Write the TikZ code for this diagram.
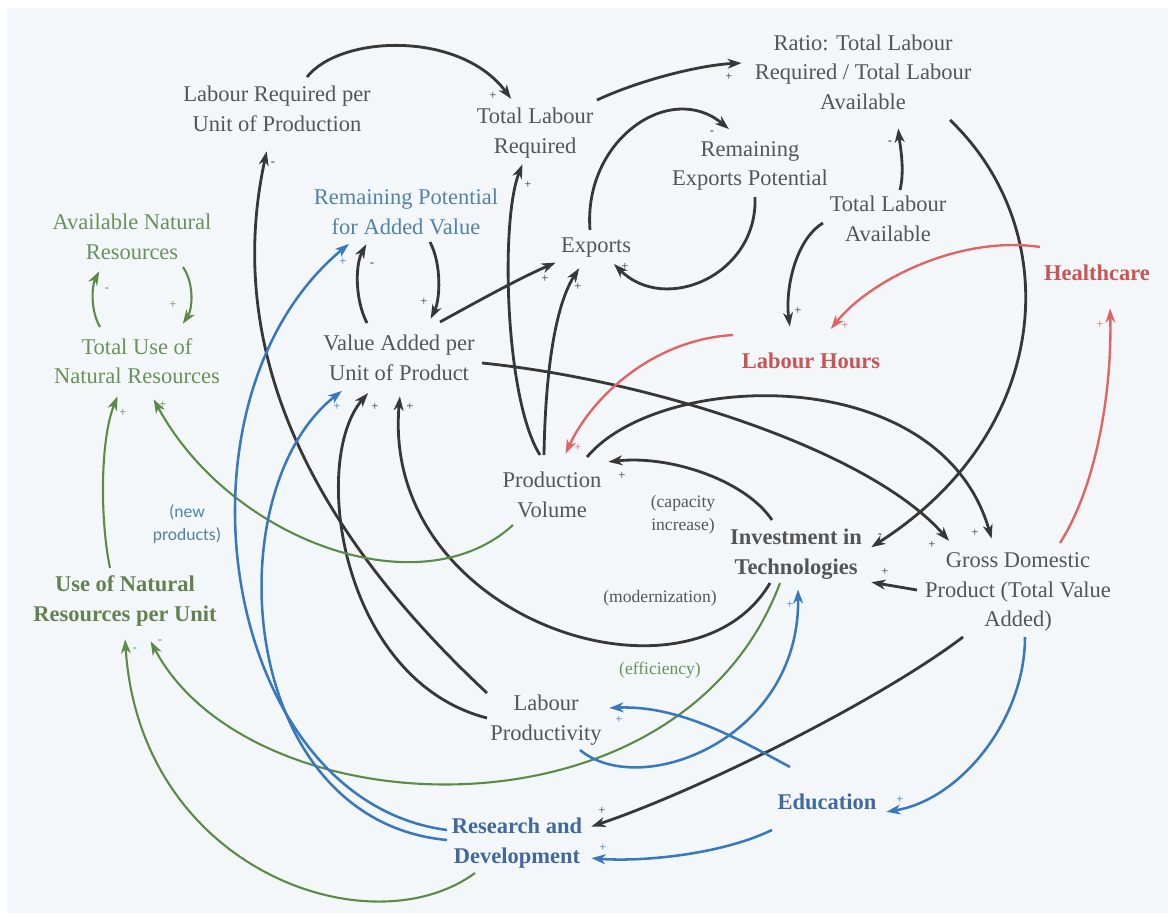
\documentclass[tikz,border=0pt]{standalone}
\usepackage{fontspec}
\setmainfont{Liberation Serif}
\newfontfamily\notesans{Carlito}
\usetikzlibrary{arrows.meta}

\definecolor{paper}{RGB}{244,247,250}
\definecolor{txtgray}{RGB}{85,85,85}
\definecolor{arrgray}{RGB}{55,55,55}
\definecolor{leafgreen}{RGB}{105,145,90}
\definecolor{darkgreen}{RGB}{100,130,80}
\definecolor{arrgreen}{RGB}{90,140,70}
\definecolor{skyblue}{RGB}{80,130,170}
\definecolor{inkblue}{RGB}{65,105,160}
\definecolor{arrblue}{RGB}{55,120,190}
\definecolor{rosered}{RGB}{200,85,85}
\definecolor{arrred}{RGB}{225,100,100}

\def\varfont{\fontsize{16}{21}\selectfont}
\def\notefont{\fontsize{12.5}{16.5}\selectfont}
\def\sgnfont{\fontsize{9}{9}\selectfont}

\begin{document}
\begin{tikzpicture}[x=0.025cm, y=-0.025cm, shorten >=1pt, >={Stealth[length=10pt,width=7pt,inset=3pt]}]
    \tikzstyle{var}=[align=center, text=txtgray, font=\varfont, inner sep=1pt]
    \tikzstyle{key var}=[var, font=\varfont\bfseries]
    \tikzstyle{note}=[align=center, text=txtgray, font=\notefont, inner sep=1pt]
    \tikzstyle{sgn}=[font=\sgnfont, inner sep=0pt]
    \tikzstyle{link}=[->, color=arrgray, line width=2pt]
    \tikzstyle{green link}=[link, color=arrgreen, line width=1.5pt]
    \tikzstyle{blue link}=[link, color=arrblue, line width=1.8pt]
    \tikzstyle{red link}=[link, color=arrred, line width=1.7pt]

    \fill[white] (0,0) rectangle (1170,916);
    \fill[paper] (7,8) rectangle (1168,913);
    \useasboundingbox (0,0) rectangle (1170,916);

    % Draw the plain variables
    \foreach \name/\x/\y/\txt in {%
        LRPU/277/109/{Labour Required per\\Unit of Production},
        TLR/535/133/{Total Labour\\Required},
        Ratio/863/72/{Ratio: Total Labour\\Required / Total Labour\\Available},
        REP/750/166/{Remaining\\Exports Potential},
        TLA/888/219/{Total Labour\\Available},
        Exp/596/248/{Exports},
        VAPU/399/358/{Value Added per\\Unit of Product},
        PV/552/495/{Production\\Volume},
        GDP/1018/592/{Gross Domestic\\Product (Total Value\\Added)},
        LP/546/720/{Labour\\Productivity}}
        \node[var] (\name) at (\x,\y) {\txt};

    % Draw the coloured variables
    \node[var, text=leafgreen] (ANR) at (132,237) {Available Natural\\Resources};
    \node[var, text=leafgreen] (TUNR) at (137,361) {Total Use of\\Natural Resources};
    \node[var, text=skyblue] (RPAV) at (406,212) {Remaining Potential\\for Added Value};
    \node[key var, text=darkgreen] (UNRU) at (125,601) {Use of Natural\\Resources per Unit};
    \node[key var] (IT) at (796,554) {Investment in\\Technologies};
    \node[key var, text=rosered] (HC) at (1097,273) {Healthcare};
    \node[key var, text=rosered] (LH) at (811,361) {Labour Hours};
    \node[key var, text=inkblue] (Edu) at (827,802) {Education};
    \node[key var, text=inkblue] (RD) at (517,843) {Research and\\Development};

    % Annotate the investment channels
    \node[note, text=skyblue, font=\notesans\notefont] (newprod) at (187,524) {(new\\products)};
    \node[note] (capinc) at (683,515) {(capacity\\increase)};
    \node[note] (modern) at (660,598) {(modernization)};
    \node[note, text=leafgreen] (effic) at (660,670) {(efficiency)};

    % Labour and exports links
    \draw[link] ([shift={(30,-32)}]LRPU.center) .. controls +(33,-42) and +(-52,-70) .. ([shift={(-23,-33)}]TLR.center) node[sgn,pos=1,shift={(-19,-4)}] {+};
    \draw[link] ([shift={(62,-33)}]TLR.center) .. controls +(43,-20) and +(-43,2) .. ([shift={(-120,-9)}]Ratio.center) node[sgn,pos=1,shift={(-14,14)}] {+};
    \draw[link] ([shift={(-12,-40)}]PV.center) .. controls +(-35,-55) and +(-23,57) .. ([shift={(-12,30)}]TLR.center) node[sgn,pos=1,shift={(5,22)}] {+};
    \draw[link] ([shift={(-8,-40)}]PV.center) .. controls +(1,-65) and +(-28,43) .. ([shift={(-16,19)}]Exp.center) node[sgn,pos=1,shift={(-2,20)}] {+};
    \draw[link] ([shift={(41,-36)}]VAPU.center) .. controls +(40,-22) and +(-37,16) .. ([shift={(-39,14)}]Exp.center) node[sgn,pos=1,shift={(-12,17)}] {+};
    \draw[link] ([shift={(-6,-18)}]Exp.center) .. controls +(-7,-90) and +(-60,-50) .. ([shift={(-20,-36)}]REP.center) node[sgn,pos=1,shift={(-18,3)}] {-};
    \draw[link] ([shift={(5,31)}]REP.center) .. controls +(3,78) and +(52,52) .. ([shift={(17,15)}]Exp.center) node[sgn,pos=1,shift={(12,4)}] {+};
    \draw[link] ([shift={(12,-29)}]TLA.center) .. controls +(5,-20) and +(2,18) .. ([shift={(35,55)}]Ratio.center) node[sgn,pos=1,shift={(-8,16)}] {-};
    \draw[link] ([shift={(87,48)}]Ratio.center) .. controls +(115,110) and +(185,-118) .. ([shift={(74,-6)}]IT.center) node[sgn,pos=1,shift={(10,-12)}] {-};
    \draw[link] ([shift={(-65,4)}]TLA.center) .. controls +(-28,17) and +(-5,-38) .. ([shift={(-21,-33)}]LH.center) node[sgn,pos=1,shift={(8,-17)}] {+};

    % Value added, production and GDP links
    \draw[link] ([shift={(83,5)}]VAPU.center) .. controls +(168,17) and +(-80,-92) .. ([shift={(-68,-50)}]GDP.center) node[sgn,pos=1,shift={(-18,3)}] {+};
    \draw[link] ([shift={(35,-38)}]PV.center) .. controls +(73,-87) and +(-52,-180) .. ([shift={(-26,-52)}]GDP.center) node[sgn,pos=1,shift={(-17,-7)}] {+};
    \draw[link] ([shift={(-24,-34)}]IT.center) .. controls +(-27,-40) and +(63,-7) .. ([shift={(55,-33)}]PV.center) node[sgn,pos=1,shift={(15,14)}] {+};
    \draw[link] ([shift={(-101,-2)}]GDP.center) -- ([shift={(74,28)}]IT.center) node[sgn,pos=1,shift={(15,-10)}] {+};
    \draw[link] ([shift={(-26,29)}]IT.center) .. controls +(-80,137) and +(-20,225) .. ([shift={(1,37)}]VAPU.center) node[sgn,pos=1,shift={(10,12)}] {+};
    \draw[link] ([shift={(-59,-27)}]LP.center) .. controls +(-207,-193) and +(-37,170) .. ([shift={(-10,41)}]LRPU.center) node[sgn,pos=1,shift={(6,14)}] {-};
    \draw[link] ([shift={(-59,-2)}]LP.center) .. controls +(-147,-38) and +(-59,68) .. ([shift={(-30,34)}]VAPU.center) node[sgn,pos=1,shift={(6,15)}] {+};
    \draw[link] ([shift={(-32,-35)}]VAPU.center) .. controls +(-12,-23) and +(-12,22) .. ([shift={(-39,31)}]RPAV.center) node[sgn,pos=1,shift={(5,22)}] {-};
    \draw[link] ([shift={(24,30)}]RPAV.center) .. controls +(12,23) and +(10,-20) .. ([shift={(31,-38)}]VAPU.center) node[sgn,pos=1,shift={(-6,-18)}] {+};
    \draw[link] ([shift={(-55,45)}]GDP.center) .. controls +(-83,63) and +(110,-37) .. ([shift={(73,-16)}]RD.center) node[sgn,pos=1,shift={(12,-16)}] {+};

    % Natural resources links
    \draw[green link] ([shift={(51,30)}]ANR.center) .. controls +(12,18) and +(10,-15) .. ([shift={(45,-36)}]TUNR.center) node[sgn,pos=1,shift={(-9,-20)}] {+};
    \draw[green link] ([shift={(-37,-34)}]TUNR.center) .. controls +(-10,-17) and +(-8,15) .. ([shift={(-32,33)}]ANR.center) node[sgn,pos=1,shift={(7,20)}] {-};
    \draw[green link] ([shift={(-15,-33)}]UNRU.center) .. controls +(-10,-48) and +(-18,45) .. ([shift={(-19,34)}]TUNR.center) node[sgn,pos=1,shift={(5,18)}] {+};
    \draw[green link] ([shift={(-39,30)}]PV.center) .. controls +(-93,85) and +(77,142) .. ([shift={(16,37)}]TUNR.center) node[sgn,pos=1,shift={(10,7)}] {+};
    \draw[green link] ([shift={(-16,29)}]IT.center) .. controls +(-100,267) and +(100,190) .. ([shift={(25,39)}]UNRU.center) node[sgn,pos=1,shift={(10,2)}] {-};
    \draw[green link] ([shift={(-42,30)}]RD.center) .. controls +(-105,77) and +(15,232) .. ([shift={(0,37)}]UNRU.center) node[sgn,pos=1,shift={(10,12)}] {-};

    % Research, education and health links
    \draw[blue link] ([shift={(-70,-13)}]RD.center) .. controls +(-227,-30) and +(-190,157) .. ([shift={(-56,31)}]RPAV.center) node[sgn,pos=1,shift={(-7,19)}] {+};
    \draw[blue link] ([shift={(-70,-3)}]RD.center) .. controls +(-212,-20) and +(-128,100) .. ([shift={(-56,32)}]VAPU.center) node[sgn,pos=1,shift={(-6,17)}] {+};
    \draw[blue link] ([shift={(34,30)}]LP.center) .. controls +(60,50) and +(2,152) .. ([shift={(2,34)}]IT.center) node[sgn,pos=1,shift={(-8,17)}] {+};
    \draw[blue link] ([shift={(-37,-35)}]Edu.center) .. controls +(-50,-27) and +(72,-3) .. ([shift={(62,-12)}]LP.center) node[sgn,pos=1,shift={(11,12)}] {+};
    \draw[blue link] ([shift={(-55,28)}]Edu.center) .. controls +(-52,25) and +(50,4) .. ([shift={(73,15)}]RD.center) node[sgn,pos=1,shift={(13,-10)}] {+};
    \draw[blue link] ([shift={(7,45)}]GDP.center) .. controls +(0,83) and +(75,-12) .. ([shift={(58,10)}]Edu.center) node[sgn,pos=1,shift={(15,-12)}] {+};
    \draw[red link] ([shift={(-57,-26)}]HC.center) .. controls +(-80,-12) and +(40,-50) .. ([shift={(19,-31)}]LH.center) node[sgn,pos=1,shift={(15,-4)}] {+};
    \draw[red link] ([shift={(42,-49)}]GDP.center) .. controls +(40,-63) and +(2,73) .. ([shift={(13,34)}]HC.center) node[sgn,pos=1,shift={(-10,18)}] {+};
    \draw[red link] ([shift={(-78,-26)}]LH.center) .. controls +(-83,5) and +(25,-55) .. ([shift={(13,-40)}]PV.center) node[sgn,pos=1,shift={(13,-7)}] {+};
\end{tikzpicture}
\end{document}
